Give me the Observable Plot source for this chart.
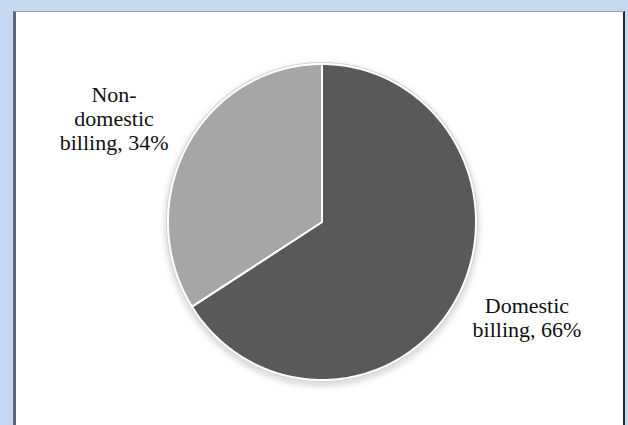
<!DOCTYPE html>
<html><head><meta charset="utf-8">
<script src="https://cdn.jsdelivr.net/npm/d3@7"></script>
<script src="https://cdn.jsdelivr.net/npm/@observablehq/plot@0.6"></script>
<style>
body{margin:0;background:#c6d9f0;width:628px;height:425px;overflow:hidden;position:relative}
#panel{position:absolute;left:13px;top:11px;width:612px;height:414px;background:#fff;border-left:3px solid #5e6775;border-top:1px solid #9aa3ad;border-right:2px solid #2a2a2a;box-sizing:border-box}
#chart{position:absolute;left:0;top:0}
</style></head><body><div id="panel"></div><div id="chart"></div>
<script>
// Data
const categories = ["Domestic billing", "Non-domestic billing"];
const shares = [66, 34];
const labels = ["Domestic\nbilling, 66%", "Non-\ndomestic\nbilling, 34%"];
const colors = ["#595959", "#a6a6a6"];

// Build slice outlines from the pie angles (clockwise from 12 o'clock)
const arcs = d3.pie().sort(null)(shares);
const slicePts = [];
arcs.forEach((a, i) => {
  const n = Math.max(2, Math.ceil((a.endAngle - a.startAngle) / 0.01));
  slicePts.push({cat: categories[i], x: 0, y: 0});
  for (let k = 0; k <= n; k++) {
    const t = a.startAngle + (a.endAngle - a.startAngle) * k / n;
    slicePts.push({cat: categories[i], x: Math.sin(t), y: Math.cos(t)});
  }
  slicePts.push({cat: categories[i], x: 0, y: 0});
});
const ring = d3.range(0, 2 * Math.PI + 0.01, 0.01).map(t => ({x: Math.sin(t), y: Math.cos(t)}));
const labelData = arcs.map((a, i) => {
  const m = (a.startAngle + a.endAngle) / 2;
  return {cat: categories[i], text: labels[i], x: 1.4 * Math.sin(m), y: 1.4 * Math.cos(m)};
});

const font = "'Liberation Serif','Times New Roman',serif";
const chart = Plot.plot({
  width: 628, height: 425,
  margin: 0,
  x: {domain: [-1, 1], range: [167.5, 475.5], axis: null},
  y: {domain: [-1, 1], range: [379.5, 63.5], axis: null},
  color: {domain: categories, range: colors},
  style: {background: "transparent", fontFamily: font},
  marks: [
    Plot.line(ring, {x: "x", y: "y", stroke: "#d4d4d4", strokeWidth: 4, curve: "linear"}),
    Plot.line(slicePts, {x: "x", y: "y", z: "cat", fill: "cat", stroke: "#ffffff", strokeWidth: 2, strokeLinejoin: "round"}),
    Plot.text(labelData.filter(d => d.cat === categories[0]), {x: "x", y: "y", text: "text", dx: 16, dy: -11, fontSize: 22, lineHeight: 1.1, fill: "#111111"}),
    Plot.text(labelData.filter(d => d.cat === categories[1]), {x: "x", y: "y", text: "text", dx: -19, dy: 3, fontSize: 22, lineHeight: 1.1, fill: "#111111"})
  ]
});
document.getElementById("chart").appendChild(chart);
// soft shadow under the outer ring
d3.select(chart).select("g[aria-label='line']").style("filter", "drop-shadow(0px 3px 3px rgba(0,0,0,0.25))");
</script></body></html>
